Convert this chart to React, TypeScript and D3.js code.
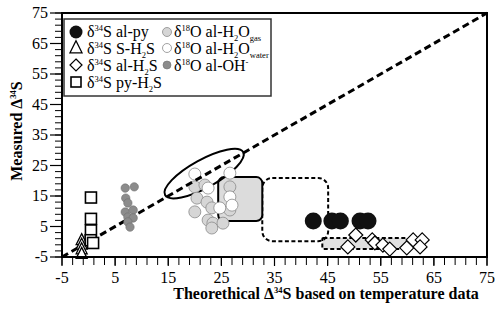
import React from "react";
import * as d3 from "d3";

// δ34S al-py (black circles)
const alPyX = [42.3, 45.8, 47.4, 51.1, 52.6];
const alPyY = [6.8, 6.8, 6.8, 6.8, 6.8];
// δ34S S-H2S (triangles)
const sH2sX = [-1.3, -1.3, -1.3, -1.3];
const sH2sY = [0.5, -1, -2.5, -4];
// δ34S al-H2S (diamonds)
const alH2sX = [48.8, 50.3, 53.4, 53.9, 55.4, 56.7, 59.9, 61.1, 62.8, 62.4];
const alH2sY = [-1.7, 2.2, 0.6, -0.4, -1.1, -2.4, -2.0, 0.6, 0.6, -1.7];
// δ34S py-H2S (squares)
const pyH2sX = [0.45, 0.45, 0.45, 0.4, 0.85];
const pyH2sY = [14.5, 7.5, 3.7, 0.5, -0.4];
// δ18O al-H2O gas (light grey)
const gasX = [20.0, 21.9, 26.6, 20.4, 22.3, 23.2, 20.0, 22.5, 23.4, 25.3, 23.2, 26.6];
const gasY = [18.0, 18.6, 18.0, 14.3, 13.0, 11.1, 9.8, 7.1, 6.1, 6.1, 4.5, 10.4];
// δ18O al-H2O water (white)
const waterX = [20.0, 26.6, 22.5, 26.6, 24.7, 27.0];
const waterY = [22.2, 22.5, 17.6, 14.7, 11.1, 12.0];
// δ18O al-OH (dark grey)
const ohX = [6.9, 8.6, 7.0, 7.4, 6.9, 8.4, 7.4, 8.4, 7.4, 7.8];
const ohY = [17.6, 18.0, 14.3, 12.7, 9.75, 10.4, 8.1, 7.8, 6.5, 4.8];

// fields: [x0, x1, y0, y1]
const solidBox = [24.4, 32.7, 6.8, 21.2];
const dashedBox = [32.7, 45.1, 0.2, 20.9];
const lowBox = [44.0, 60.2, -2.4, 1.2];
// ellipse major axis ends [x0, y0, x1, y1]
const ellipseAxis = [14.4, 15.3, 29.1, 29.4];

const ticks = [-5, 5, 15, 25, 35, 45, 55, 65, 75];
const minor = d3.range(-5, 75.1, 2);

const W = 500;
const H = 311;
const serif = "Liberation Serif";

const x = d3.scaleLinear().domain([-5, 75]).range([62, 487]);
const y = d3.scaleLinear().domain([-5, 75]).range([257, 13]);

const zip = (a: number[], b: number[]) => a.map((v, i) => [v, b[i]]);

const Sup = ({ t }: { t: string }) => (
  <tspan dy={-6} fontSize={8.5}>{t}</tspan>
);

const Sub = ({ t }: { t: string }) => (
  <tspan dy={4} fontSize={8.5}>{t}</tspan>
);

const Triangle = ({ cx, cy, s = 11 }: any) => (
  <path
    d={`M${cx},${cy - s * 0.6}L${cx + s / 2},${cy + s * 0.4}L${cx - s / 2},${cy + s * 0.4}Z`}
    fill="#fff"
    stroke="#000"
    strokeWidth={1.3}
  />
);

const Diamond = ({ cx, cy, s = 7 }: any) => (
  <path
    d={`M${cx},${cy - s}L${cx + s},${cy}L${cx},${cy + s}L${cx - s},${cy}Z`}
    fill="#fff"
    stroke="#000"
    strokeWidth={1.2}
  />
);

const Square = ({ cx, cy, s = 11 }: any) => (
  <rect x={cx - s / 2} y={cy - s / 2} width={s} height={s} fill="#fff" stroke="#000" strokeWidth={1.6} />
);

const Field = ({ b, dashed, fill, r }: any) => (
  <rect
    x={x(b[0])}
    y={y(b[3])}
    width={x(b[1]) - x(b[0])}
    height={y(b[2]) - y(b[3])}
    rx={r}
    fill={fill}
    stroke="#000"
    strokeWidth={2}
    strokeDasharray={dashed ? "4,2.5" : undefined}
  />
);

export default function App() {
  const [ex0, ey0, ex1, ey1] = ellipseAxis;
  const p0 = [x(ex0), y(ey0)];
  const p1 = [x(ex1), y(ey1)];
  const ecx = (p0[0] + p1[0]) / 2;
  const ecy = (p0[1] + p1[1]) / 2;
  const erx = Math.hypot(p1[0] - p0[0], p1[1] - p0[1]) / 2;
  const eang = (Math.atan2(p1[1] - p0[1], p1[0] - p0[0]) * 180) / Math.PI;

  return (
    <svg
      width={W}
      height={H}
      style={{ position: "absolute", left: 0, top: 0, background: "#fff", fontFamily: serif }}
    >
      {/* fields */}
      <Field b={lowBox} dashed fill="#e0e0e0" r={1} />
      <Field b={dashedBox} dashed fill="none" r={10} />
      <Field b={solidBox} fill="#dcdcdc" r={6} />
      <ellipse
        cx={ecx}
        cy={ecy}
        rx={erx}
        ry={14}
        transform={`rotate(${eang},${ecx},${ecy})`}
        fill="none"
        stroke="#000"
        strokeWidth={2}
      />

      {/* δ18O al-H2O */}
      {zip(gasX, gasY).map(([a, b], i) => (
        <circle key={"g" + i} cx={x(a)} cy={y(b)} r={6} fill="#d6d6d6" stroke="#8a8a8a" strokeWidth={0.8} />
      ))}
      {zip(waterX, waterY).map(([a, b], i) => (
        <circle key={"w" + i} cx={x(a)} cy={y(b)} r={6} fill="#fff" stroke="#8a8a8a" strokeWidth={0.8} />
      ))}

      {/* 1:1 line */}
      <line
        x1={x(-5)}
        y1={y(-5)}
        x2={x(75)}
        y2={y(75)}
        stroke="#000"
        strokeWidth={3}
        strokeDasharray="7,4"
      />

      {/* δ18O al-OH */}
      {zip(ohX, ohY).map(([a, b], i) => (
        <circle key={"o" + i} cx={x(a)} cy={y(b)} r={4.2} fill="#8c8c8c" stroke="#707070" strokeWidth={0.6} />
      ))}

      {zip(sH2sX, sH2sY).map(([a, b], i) => (
        <Triangle key={"t" + i} cx={x(a)} cy={y(b)} />
      ))}
      {zip(pyH2sX, pyH2sY).map(([a, b], i) => (
        <Square key={"s" + i} cx={x(a)} cy={y(b)} />
      ))}
      {zip(alPyX, alPyY).map(([a, b], i) => (
        <circle key={"p" + i} cx={x(a)} cy={y(b)} r={8.5} fill="#111" />
      ))}
      {zip(alH2sX, alH2sY).map(([a, b], i) => (
        <Diamond key={"d" + i} cx={x(a)} cy={y(b)} />
      ))}

      {/* frame */}
      <rect x={62} y={13} width={425} height={244} fill="none" stroke="#000" strokeWidth={2} />

      {/* y axis ticks */}
      {minor.map((v) => (
        <line key={"ym" + v} x1={55} x2={62} y1={y(v)} y2={y(v)} stroke="#000" strokeWidth={1} />
      ))}
      {ticks.map((v) => (
        <g key={"y" + v}>
          <line x1={50} x2={62} y1={y(v)} y2={y(v)} stroke="#000" strokeWidth={1.2} />
          <text x={48} y={y(v) + 5} textAnchor="end" fontSize={16}>
            {v}
          </text>
        </g>
      ))}
      {/* x axis ticks */}
      {minor.map((v) => (
        <line key={"xm" + v} x1={x(v)} x2={x(v)} y1={257} y2={265} stroke="#000" strokeWidth={1} />
      ))}
      {ticks.map((v) => (
        <g key={"x" + v}>
          <line x1={x(v)} x2={x(v)} y1={257} y2={266} stroke="#000" strokeWidth={1.2} />
          <text x={x(v)} y={283} textAnchor="middle" fontSize={16}>
            {v}
          </text>
        </g>
      ))}

      {/* axis titles */}
      <text x={326} y={299} textAnchor="middle" fontSize={16} fontWeight="bold">
        Theorethical Δ<Sup t="34" /><tspan dy={6}>S based on temperature data</tspan>
      </text>
      <text transform="translate(22,131) rotate(-90)" textAnchor="middle" fontSize={16} fontWeight="bold">
        Measured Δ<Sup t="34" /><tspan dy={6}>S</tspan>
      </text>

      {/* legend */}
      <rect x={64} y={19} width={207} height={77} fill="#fff" stroke="#333" strokeWidth={1.5} />
      <g fontSize={16}>
        <circle cx={76} cy={32} r={6.5} fill="#111" />
        <text x={87} y={37}>
          δ<Sup t="34" /><tspan dy={6}>S al-py</tspan>
        </text>
        <Triangle cx={76} cy={48} s={12} />
        <text x={87} y={54}>
          δ<Sup t="34" /><tspan dy={6}>S S-H</tspan><Sub t="2" /><tspan dy={-4}>S</tspan>
        </text>
        <Diamond cx={76} cy={65} s={6} />
        <text x={87} y={71}>
          δ<Sup t="34" /><tspan dy={6}>S al-H</tspan><Sub t="2" /><tspan dy={-4}>S</tspan>
        </text>
        <Square cx={76} cy={82} s={10} />
        <text x={87} y={88}>
          δ<Sup t="34" /><tspan dy={6}>S py-H</tspan><Sub t="2" /><tspan dy={-4}>S</tspan>
        </text>

        <circle cx={167} cy={32} r={4.5} fill="#d6d6d6" stroke="#8a8a8a" strokeWidth={0.8} />
        <text x={174} y={37}>
          δ<Sup t="18" /><tspan dy={6}>O al-H</tspan><Sub t="2" /><tspan dy={-4}>O</tspan><Sub t="gas" />
        </text>
        <circle cx={167} cy={48} r={4.5} fill="#fff" stroke="#8a8a8a" strokeWidth={0.8} />
        <text x={174} y={54}>
          δ<Sup t="18" /><tspan dy={6}>O al-H</tspan><Sub t="2" /><tspan dy={-4}>O</tspan><Sub t="water" />
        </text>
        <circle cx={167} cy={65} r={4} fill="#8c8c8c" stroke="#707070" strokeWidth={0.6} />
        <text x={174} y={71}>
          δ<Sup t="18" /><tspan dy={6}>O al-OH</tspan><Sup t="-" />
        </text>
      </g>
    </svg>
  );
}
